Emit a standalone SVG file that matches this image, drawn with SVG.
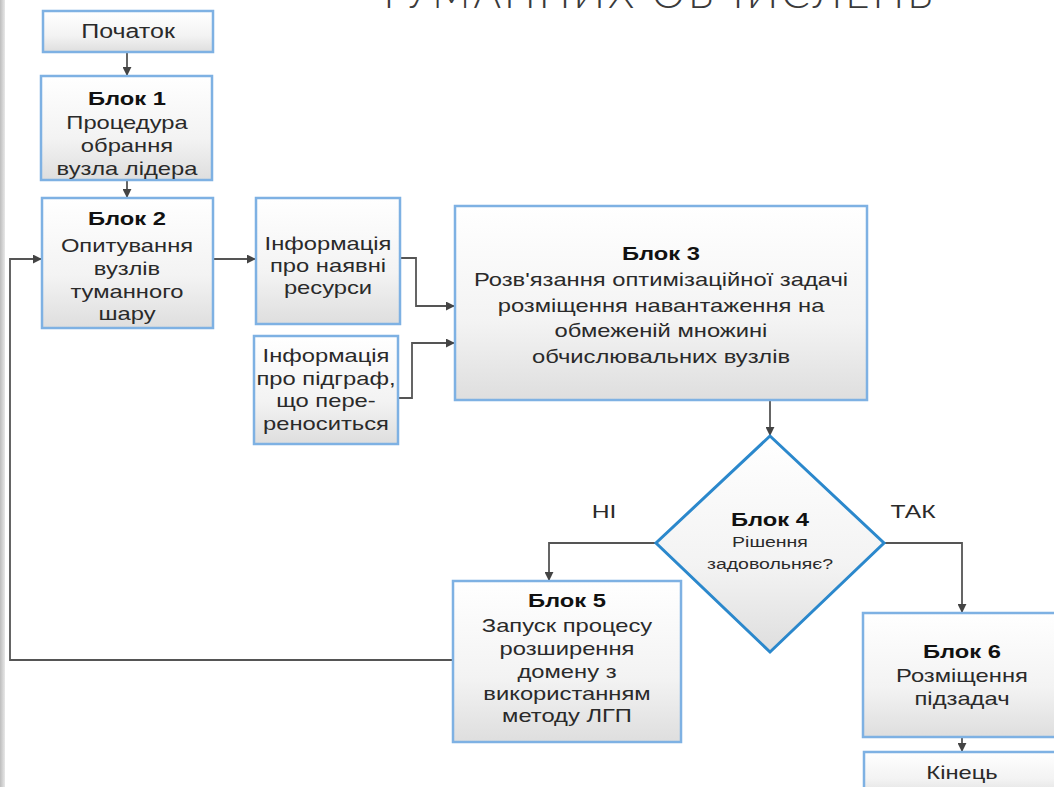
<svg xmlns="http://www.w3.org/2000/svg" width="1054" height="787" viewBox="0 0 1054 787">
<defs>
<linearGradient id="g" x1="0" y1="0" x2="0" y2="1">
<stop offset="0" stop-color="#ffffff"/>
<stop offset="0.6" stop-color="#f3f3f3"/>
<stop offset="1" stop-color="#dedede"/>
</linearGradient>
<linearGradient id="lb" x1="0" y1="0" x2="1" y2="0">
<stop offset="0" stop-color="#bdbdbd"/>
<stop offset="1" stop-color="#e8e8e8"/>
</linearGradient>
<marker id="a" viewBox="0 0 10 10" refX="9" refY="5" markerWidth="5" markerHeight="5" orient="auto">
<path d="M0,0 L10,5 L0,10 z" fill="#444"/>
</marker>
<style>
.box{fill:url(#g);stroke:#7eb1e3;stroke-width:2.5}
.dia{fill:url(#g);stroke:#2b88cc;stroke-width:3}
.t{font-family:"Liberation Sans",Arial,sans-serif;font-size:19px;fill:#2a2a2a;text-anchor:middle}
.b{font-weight:bold;font-size:19px;fill:#111}
.s{font-size:15px}
.c{fill:none;stroke:#555;stroke-width:1.8;marker-end:url(#a)}
</style>
</defs>
<rect width="1054" height="787" fill="#ffffff"/>
<rect x="0" y="0" width="5" height="787" fill="url(#lb)"/>
<text x="656" y="8" font-family="Lato,'Open Sans','Liberation Sans',sans-serif" font-weight="300" font-size="42" letter-spacing="3" fill="#3a3a3a" text-anchor="middle">ТУМАННИХ ОБЧИСЛЕНЬ</text>

<g id="connectors">
<path class="c" d="M127,52 V75"/>
<path class="c" d="M127,180 V197"/>
<path class="c" d="M213,259 H255"/>
<path class="c" d="M400,258 H416 V306 H454"/>
<path class="c" d="M398,398 H412 V343 H454"/>
<path class="c" d="M770,400 V435"/>
<path class="c" d="M656,543 H549 V580"/>
<path class="c" d="M884,543 H962 V612"/>
<path class="c" d="M962,737 V751"/>
<path class="c" d="M453,660 H10 V259 H41"/>
</g>

<g id="start">
<rect class="box" x="43" y="11" width="170" height="41"/>
<g transform="translate(128 0) scale(1.25 1)">
<text class="t" x="0" y="38" style="font-size:20px">Початок</text>
</g>
</g>
<g id="block1">
<rect class="box" x="41" y="76" width="171" height="104"/>
<g transform="translate(127 0) scale(1.25 1)">
<text class="t b" x="0" y="105">Блок 1</text>
<text class="t" x="0" y="129">Процедура</text>
<text class="t" x="0" y="152">обрання</text>
<text class="t" x="0" y="175">вузла лідера</text>
</g>
</g>
<g id="block2">
<rect class="box" x="42" y="198" width="171" height="130"/>
<g transform="translate(127 0) scale(1.25 1)">
<text class="t b" x="0" y="225">Блок 2</text>
<text class="t" x="0" y="252">Опитування</text>
<text class="t" x="0" y="275">вузлів</text>
<text class="t" x="0" y="298">туманного</text>
<text class="t" x="0" y="320">шару</text>
</g>
</g>
<g id="info1">
<rect class="box" x="256" y="198" width="144" height="126"/>
<g transform="translate(328 0) scale(1.25 1)">
<text class="t" x="0" y="250">Інформація</text>
<text class="t" x="0" y="272">про наявні</text>
<text class="t" x="0" y="294">ресурси</text>
</g>
</g>
<g id="info2">
<rect class="box" x="254" y="336" width="144" height="108"/>
<g transform="translate(326 0) scale(1.25 1)">
<text class="t" x="0" y="362">Інформація</text>
<text class="t" x="0" y="385">про підграф,</text>
<text class="t" x="0" y="407">що пере-</text>
<text class="t" x="0" y="430">реноситься</text>
</g>
</g>
<g id="block3">
<rect class="box" x="455" y="206" width="412" height="194"/>
<g transform="translate(661 0) scale(1.25 1)">
<text class="t b" x="0" y="260">Блок 3</text>
<text class="t" x="0" y="286">Розв'язання оптимізаційної задачі</text>
<text class="t" x="0" y="312">розміщення навантаження на</text>
<text class="t" x="0" y="337">обмеженій множині</text>
<text class="t" x="0" y="363">обчислювальних вузлів</text>
</g>
</g>
<g id="block4">
<polygon class="dia" points="770,436 884,543 770,652 656,543"/>
<g transform="translate(770 0) scale(1.25 1)">
<text class="t b" x="0" y="526">Блок 4</text>
</g>
<g transform="translate(770 0) scale(1.3 1)">
<text class="t s" x="0" y="547">Рішення</text>
<text class="t s" x="0" y="569">задовольняє?</text>
</g>
</g>
<g id="labels">
<g transform="translate(604 0) scale(1.3 1)">
<text class="t" x="0" y="518">НІ</text>
</g>
<g transform="translate(913 0) scale(1.3 1)">
<text class="t" x="0" y="518">ТАК</text>
</g>
</g>
<g id="block5">
<rect class="box" x="453" y="581" width="228" height="161"/>
<g transform="translate(567 0) scale(1.25 1)">
<text class="t b" x="0" y="607">Блок 5</text>
<text class="t" x="0" y="632">Запуск процесу</text>
<text class="t" x="0" y="655">розширення</text>
<text class="t" x="0" y="678">домену з</text>
<text class="t" x="0" y="700">використанням</text>
<text class="t" x="0" y="722">методу ЛГП</text>
</g>
</g>
<g id="block6">
<rect class="box" x="863" y="613" width="200" height="124"/>
<g transform="translate(962 0) scale(1.25 1)">
<text class="t b" x="0" y="658">Блок 6</text>
<text class="t" x="0" y="682">Розміщення</text>
<text class="t" x="0" y="705">підзадач</text>
</g>
</g>
<g id="end">
<rect class="box" x="864" y="752" width="200" height="45"/>
<g transform="translate(962 0) scale(1.25 1)">
<text class="t" x="0" y="779">Кінець</text>
</g>
</g>
</svg>
